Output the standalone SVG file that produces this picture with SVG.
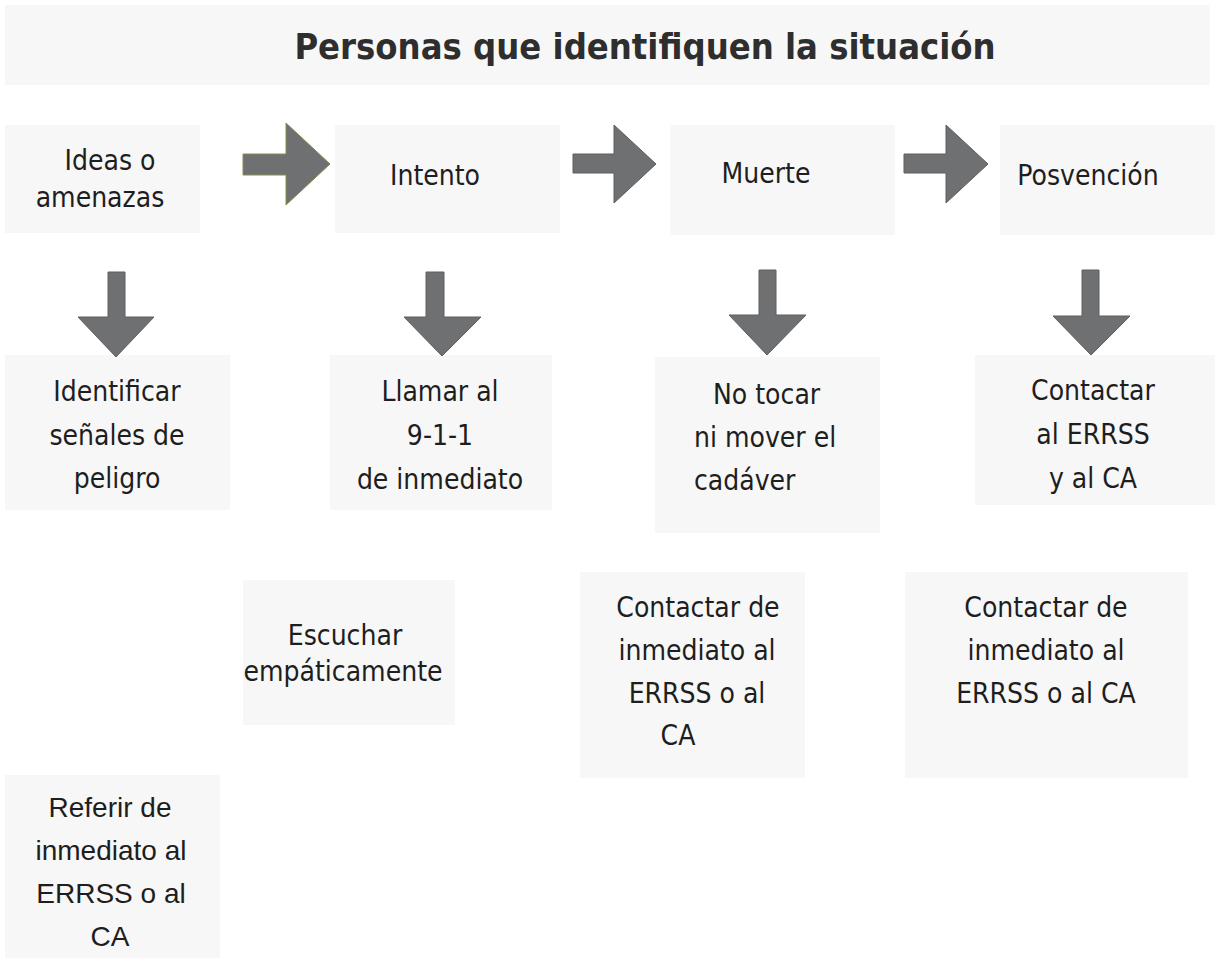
<svg xmlns="http://www.w3.org/2000/svg" width="1219" height="958" viewBox="0 0 1219 958">
<style>
.bg{fill:#f7f7f7}
.t{font-family:"DejaVu Sans Condensed","DejaVu Sans",sans-serif;font-size:28px;fill:#1e1e1e;text-anchor:middle}
.a{font-family:"Liberation Sans",Arial,sans-serif;font-size:28px;fill:#1e1e1e;text-anchor:middle}
.title{font-family:"DejaVu Sans Condensed","DejaVu Sans",sans-serif;font-weight:bold;font-size:36px;fill:#2e2e2e;text-anchor:middle}
.arr{fill:#6f7072;stroke:#5e5e60;stroke-width:1}
</style>
<rect width="1219" height="958" fill="#ffffff"/>
<g id="title">
<rect class="bg" x="5" y="5" width="1205" height="80"/>
<text class="title" x="645" y="59">Personas que identifiquen la situación</text>
</g>
<g id="ideas">
<rect class="bg" x="5" y="125" width="195" height="108"/>
<text class="t" x="110" y="170">Ideas o</text>
<text class="t" x="100" y="207">amenazas</text>
</g>
<g id="intento">
<rect class="bg" x="335" y="125" width="225" height="108"/>
<text class="t" x="435" y="185">Intento</text>
</g>
<g id="muerte">
<rect class="bg" x="670" y="125" width="225" height="110"/>
<text class="t" x="766" y="183">Muerte</text>
</g>
<g id="posvencion">
<rect class="bg" x="1000" y="125" width="215" height="110"/>
<text class="t" x="1088" y="185">Posvención</text>
</g>
<g id="identificar">
<rect class="bg" x="5" y="355" width="225" height="155"/>
<text class="t" x="117" y="401">Identificar</text>
<text class="t" x="117" y="445">señales de</text>
<text class="t" x="117" y="488">peligro</text>
</g>
<g id="llamar">
<rect class="bg" x="330" y="355" width="222" height="155"/>
<text class="t" x="440" y="401">Llamar al</text>
<text class="t" x="440" y="445">9-1-1</text>
<text class="t" x="440" y="489">de inmediato</text>
</g>
<g id="notocar">
<rect class="bg" x="655" y="357" width="225" height="176"/>
<text class="t" x="713" y="404" style="text-anchor:start">No tocar</text>
<text class="t" x="694" y="447" style="text-anchor:start">ni mover el</text>
<text class="t" x="694" y="490" style="text-anchor:start">cadáver</text>
</g>
<g id="contactar1">
<rect class="bg" x="975" y="355" width="240" height="150"/>
<text class="t" x="1093" y="400">Contactar</text>
<text class="t" x="1093" y="444">al ERRSS</text>
<text class="t" x="1093" y="488">y al CA</text>
</g>
<g id="escuchar">
<rect class="bg" x="243" y="580" width="212" height="145"/>
<text class="t" x="345" y="645">Escuchar</text>
<text class="t" x="343" y="681">empáticamente</text>
</g>
<g id="contactar2">
<rect class="bg" x="580" y="572" width="225" height="206"/>
<text class="t" x="698" y="617">Contactar de</text>
<text class="t" x="697" y="660">inmediato al</text>
<text class="t" x="697" y="703">ERRSS o al</text>
<text class="t" x="678" y="745">CA</text>
</g>
<g id="contactar3">
<rect class="bg" x="905" y="572" width="283" height="206"/>
<text class="t" x="1046" y="617">Contactar de</text>
<text class="t" x="1046" y="660">inmediato al</text>
<text class="t" x="1046" y="703">ERRSS o al CA</text>
</g>
<g id="referir">
<rect class="bg" x="5" y="775" width="215" height="183"/>
<text class="a" x="110" y="817">Referir de</text>
<text class="a" x="111" y="860">inmediato al</text>
<text class="a" x="111" y="903">ERRSS o al</text>
<text class="a" x="110" y="946">CA</text>
</g>
<g id="connectors">
<polygon class="arr" style="stroke:#8c8a50" points="243,154 286,154 286,123 330,164 286,205 286,175 243,175"/>
<polygon class="arr" points="573,154 614,154 614,125 656,164 614,203 614,173 573,173"/>
<polygon class="arr" points="904,154 946,154 946,125 988,164 946,203 946,173 904,173"/>
<polygon class="arr" points="108,272 125,272 125,317 154,317 116,357 78,317 108,317"/>
<polygon class="arr" points="426,272 444,272 444,317 481,317 442,356 404,317 426,317"/>
<polygon class="arr" points="759,270 776,270 776,315 806,315 767,355 729,315 759,315"/>
<polygon class="arr" points="1082,270 1099,270 1099,316 1130,316 1091,355 1053,316 1082,316"/>
</g>
</svg>
